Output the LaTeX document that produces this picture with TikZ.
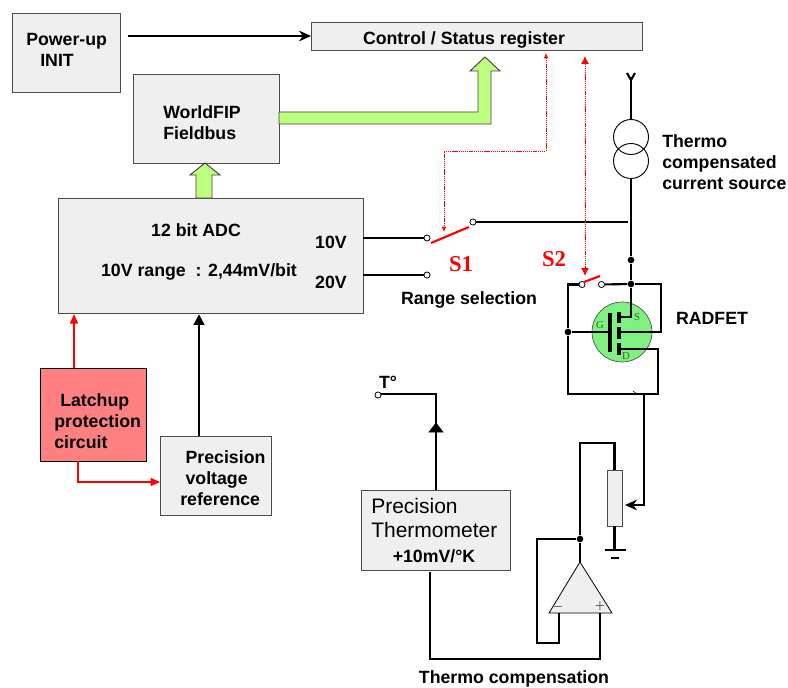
\documentclass[tikz,border=0pt]{standalone}
\usepackage{fontspec}
\setmainfont{Liberation Sans}
\newfontfamily\serifbf{Liberation Serif}
\usetikzlibrary{arrows.meta,positioning}
\definecolor{boxgray}{HTML}{EFEFEF}
\definecolor{latchred}{HTML}{FF8080}
\definecolor{busgreen}{HTML}{BFFF80}
\definecolor{fetgreen}{HTML}{80F080}
\definecolor{fetlabel}{HTML}{1F6F1F}
\tikzset{
    box/.style={draw=black!70,fill=boxgray,line width=0.9pt,inner sep=0pt,anchor=north west},
    lbl/.style={font=\bfseries\fontsize{13.3}{15.6}\selectfont,align=left,inner sep=0pt},
    wire/.style={line width=1.6pt},
    redwire/.style={draw=red,line width=1.1pt,-{Triangle[length=7pt,width=6pt]}},
    ctrl/.style={draw=red,dash pattern=on 1pt off 0.6pt,line width=0.7pt},
    pin/.style={circle,draw=black,fill=white,line width=0.6pt,minimum size=4.6pt,inner sep=0pt},
    dot/.style={circle,fill=black,minimum size=5pt,inner sep=0pt},
    fetlbl/.style={font=\serifbf\fontsize{8}{8}\selectfont,text=fetlabel,inner sep=0pt},
    swname/.style={font=\serifbf\bfseries\fontsize{17}{17}\selectfont,text=red,inner sep=0pt}
}
\begin{document}
\begin{tikzpicture}[%
    x=0.75pt,y=-0.75pt,
    >=stealth
    ]
    \useasboundingbox (0,0) rectangle (788,688);

    % boxes
    \node[box,minimum width=81pt,minimum height=59.25pt] (init) at (12,13) {};
    \node[box,minimum width=248.25pt,minimum height=21pt] (reg) at (311,22) {};
    \node[box,minimum width=109.5pt,minimum height=66.75pt] (fip) at (133,74) {};
    \node[box,minimum width=228.75pt,minimum height=86.25pt] (adc) at (58,198) {};
    \node[box,draw=black,fill=latchred,minimum width=79.5pt,minimum height=69.75pt] (latch) at (40,368) {};
    \node[box,minimum width=83.25pt,minimum height=59.25pt] (vref) at (160,436) {};
    \node[box,minimum width=111.75pt,minimum height=60pt] (thermo) at (361,490) {};

    % texts
    \node[lbl,anchor=west] (initt) at (26,50) {Power-up\\\hspace*{10.5pt}INIT};
    \node[lbl] (regt) at (464,40) {Control / Status register};
    \node[lbl,anchor=west] (fipt) at (163,123) {WorldFIP\\Fieldbus};
    \node[lbl] (adct) at (196,230) {12 bit ADC};
    \node[lbl] (adcr) at (199,272) {10V range\ \ : 2,44mV/bit};
    \node[lbl] (adcx) at (331,242) {10V};
    \node[lbl] (adcy) at (331,282) {20V};
    \node[lbl,anchor=west] (latcht) at (54,421) {\hspace*{4.5pt}Latchup\\protection\\circuit};
    \node[lbl,anchor=west] (vreft) at (180,478) {\hspace*{4pt}Precision\\\hspace*{4pt}voltage\\reference};
    \node[lbl,anchor=west,font=\fontsize{15.75}{18.5}\selectfont] (thermot) at (371,518) {Precision\\Thermometer};
    \node[lbl] (thermok) at (434,556) {+10mV/°K};
    \node[lbl] (rng) at (469,300) {Range selection};
    \node[lbl,anchor=west] (srct) at (662,162) {Thermo\\compensated\\current source};
    \node[lbl] (radt) at (712,318) {RADFET};
    \node[lbl] (tdeg) at (388,382) {T°};
    \node[lbl] (compt) at (514,679) {Thermo compensation};
    \node[swname] (s1) at (461,264) {S1};
    \node[swname] (s2) at (554,259) {S2};

    % data buses
    \draw[fill=busgreen,draw=black!75,line width=0.7pt] (279,112) -- (478,112) -- (478,71) -- (470,71)
        -- (485,57) -- (500,71) -- (491,71) -- (491,124) -- (279,124) -- cycle;
    \draw[fill=busgreen,draw=black!75,line width=0.7pt] (196,198) -- (196,175) -- (190,175)
        -- (205,163) -- (220,175) -- (212,175) -- (212,198) -- cycle;

    \coordinate (initout) at (128,36);
    \draw[wire,-{Stealth[length=9pt,width=8pt]}] (initout) -- (initout -| reg.west);

    % range switch
    \node[pin] (p10) at (427,238) {};
    \node[pin] (p20) at (427,275) {};
    \node[pin] (pcom) at (473,222) {};
    \coordinate (c10) at (363,238);
    \coordinate (c20) at (363,275);
    \coordinate (cbus) at (628,222);
    \draw[wire] (c10) -- (p10);
    \draw[wire] (c20) -- (p20);
    \draw[wire] (pcom) -- (cbus);
    \draw[red,line width=1.6pt] (431,243) -- (469,227);

    % current source and radfet supply
    \node[circle,draw,line width=0.7pt,minimum size=26.25pt,inner sep=0pt] (src1) at (631,137) {};
    \node[circle,draw,line width=0.7pt,minimum size=26.25pt,inner sep=0pt] (src2) at (631,161) {};
    \coordinate (vcc) at (631,80);
    \coordinate (vccl) at (627,73);
    \coordinate (vccr) at (635,73);
    \draw[wire] (vccl) -- (vcc) -- (vccr);
    \draw[wire] (vcc) -- (src1.north);
    \node[dot] (j1) at (631,260) {};
    \node[dot] (j2) at (631,284) {};
    \draw[wire] (src2.south) -- (j1) -- (j2);

    % radfet
    \node[circle,draw=black!70,fill=fetgreen,line width=0.5pt,minimum size=45pt,inner sep=0pt] (fet) at (622,332) {};
    \node[dot] (jg) at (568,332) {};
    \node[pin] (s2a) at (582,284.5) {};
    \node[pin] (s2b) at (601.5,284.5) {};
    \coordinate (gate) at (610,332);
    \coordinate (src) at (619,317);
    \coordinate (chan) at (619,332);
    \coordinate (drn) at (619,349);
    \coordinate (bulk) at (661,332);
    \coordinate (loopdr) at (658,394);
    \coordinate (loopgt) at (568,394);
    \draw[wire] (j2) -- (s2b);
    \draw[wire] (s2a) -- (s2a -| jg) -- (jg) -- (gate);
    \draw[wire] (jg) -- (loopgt) -- (loopdr) -- (drn -| loopdr) -- (drn);
    \draw[wire] (j2) -- (j2 -| bulk) -- (bulk) -- (chan);
    \draw[wire] (j2) -- (j2 |- src) -- (src);
    \draw[line width=2.6pt] (610,313) -- (610,352);
    \draw[line width=2.6pt] (619,312) -- (619,323);
    \draw[line width=2.6pt] (619,327) -- (619,339);
    \draw[line width=2.6pt] (619,343) -- (619,355);
    \draw[red,line width=1.6pt] (584,282) -- (600,276);
    \node[fetlbl] (gl) at (600,325) {G};
    \node[fetlbl] (sl) at (637,317) {S};
    \node[fetlbl] (dl) at (626,356) {D};

    % control lines
    \coordinate (ct1) at (546,53);
    \coordinate (ct2) at (444,232);
    \draw[ctrl,{Latex[length=4pt,width=3.5pt]}-{Latex[length=4pt,width=3.5pt]}] (ct1) -- (546,151) -- (444,151) -- (ct2);
    \coordinate (ct3) at (585,56);
    \coordinate (ct4) at (585,276);
    \draw[ctrl,{Latex[length=6pt,width=6pt]}-{Latex[length=6pt,width=6pt]}] (ct3) -- (ct4);

    % latchup and reference
    \coordinate (lt1) at (74,368);
    \draw[redwire] (lt1) -- (lt1 |- adc.south);
    \coordinate (lt2) at (78,461);
    \draw[redwire] (lt2) -- (78,482) -- (vref.west |- 0,482);
    \coordinate (vr1) at (199,436);
    \draw[wire,-{Triangle[length=8pt,width=8pt]}] (vr1) -- (vr1 |- adc.south);

    % thermo compensation
    \node[pin] (tp) at (378,395) {};
    \coordinate (th1) at (436,490);
    \coordinate (thc) at (436,394);
    \draw[wire] (th1) -- (thc) -- (tp.east |- thc);
    \draw[fill=black] (436,423) -- (443,432) -- (429,432) -- cycle;
    \node[draw=black!70,fill=boxgray,line width=0.5pt,minimum width=11.25pt,minimum height=42pt,inner sep=0pt] (pot) at (614.5,498) {};
    \coordinate (wtap) at (644,394);
    \coordinate (wbend) at (644,505);
    \draw[line width=1.3pt,-{Stealth[length=9pt,width=8pt]}] (wtap) -- (wbend) -- (625,505);
    \draw[line width=0.4pt] (633,391) -- (637,394);
    \coordinate (gnd) at (614.5,550);
    \draw[wire] (pot.south) -- (gnd);
    \draw[line width=1.8pt] (605,550) -- (626,550);
    \draw[line width=1.8pt] (610.5,558) -- (619,558);
    \draw[fill=boxgray,line width=0.6pt] (580,562) -- (612,613) -- (549,613) -- cycle;
    \node[font=\fontsize{10}{10}\selectfont,inner sep=0pt] (minus) at (558,607) {$-$};
    \node[font=\fontsize{10}{10}\selectfont,inner sep=0pt] (plus) at (600,606) {$+$};
    \coordinate (opout) at (580,562);
    \node[dot] (jo) at (580,539) {};
    \draw[wire] (pot.north) -- (614.5,443) -- (580,443) -- (jo) -- (opout);
    \draw[wire] (jo) -- (537,539) -- (537,643) -- (559,643) -- (559,613);
    \draw[wire] (600,613) -- (600,659) -- (430,659) -- (430,572);
\end{tikzpicture}
\end{document}
